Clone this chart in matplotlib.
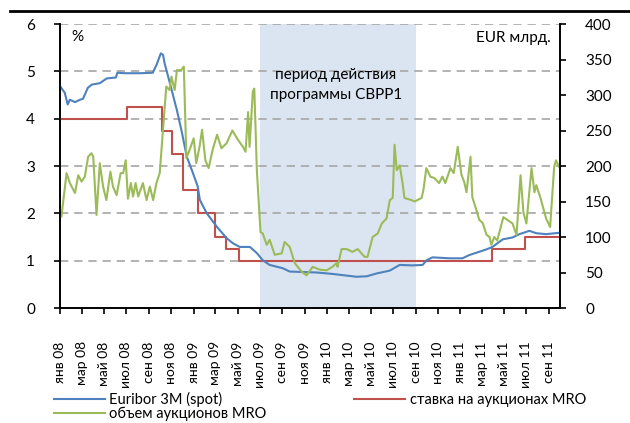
import matplotlib
matplotlib.use('Agg')
import matplotlib.pyplot as plt
from matplotlib.lines import Line2D
import pandas as pd

plt.rcParams['font.family'] = ['Lato', 'DejaVu Sans']

# x axis ticks every two months
tick_labels = ['янв 08', 'мар 08', 'май 08', 'июл 08', 'сен 08', 'ноя 08',
               'янв 09', 'мар 09', 'май 09', 'июл 09', 'сен 09', 'ноя 09',
               'янв 10', 'мар 10', 'май 10', 'июл 10', 'сен 10', 'ноя 10',
               'янв 11', 'мар 11', 'май 11', 'июл 11', 'сен 11']

# Euribor 3M, %
euribor_dates = ['2008-01-01', '2008-01-09', '2008-01-14', '2008-01-22', '2008-01-28',
                 '2008-02-11', '2008-02-25', '2008-03-04', '2008-03-17', '2008-03-28',
                 '2008-04-19', '2008-05-08', '2008-06-02', '2008-06-06', '2008-06-27',
                 '2008-08-07', '2008-09-11', '2008-09-22', '2008-10-03', '2008-10-09',
                 '2008-10-14', '2008-10-20', '2008-11-02', '2008-11-16', '2008-11-30',
                 '2008-12-13', '2008-12-30', '2009-01-12', '2009-01-18', '2009-02-06',
                 '2009-03-05', '2009-04-02', '2009-04-18', '2009-05-07', '2009-06-04',
                 '2009-06-23', '2009-07-09', '2009-07-28', '2009-09-02', '2009-09-21',
                 '2009-12-04', '2010-01-16', '2010-03-23', '2010-04-20', '2010-05-17',
                 '2010-06-22', '2010-07-19', '2010-08-23', '2010-09-20', '2010-10-01',
                 '2010-10-17', '2010-12-03', '2011-01-07', '2011-01-26', '2011-02-23',
                 '2011-03-14', '2011-03-30', '2011-04-27', '2011-05-24', '2011-06-12',
                 '2011-07-09', '2011-07-28', '2011-08-24', '2011-09-30']
euribor_values = [4.69, 4.60, 4.55, 4.30, 4.40,
                  4.35, 4.40, 4.42, 4.65, 4.72,
                  4.75, 4.85, 4.87, 4.97, 4.96,
                  4.96, 4.97, 5.15, 5.38, 5.35,
                  5.15, 4.98, 4.60, 4.18, 3.70,
                  3.20, 2.85, 2.57, 2.28, 2.00,
                  1.72, 1.47, 1.37, 1.29, 1.29,
                  1.16, 1.01, 0.91, 0.84, 0.77,
                  0.75, 0.72, 0.66, 0.67, 0.73,
                  0.79, 0.91, 0.90, 0.91, 1.01,
                  1.07, 1.05, 1.05, 1.12, 1.19,
                  1.24, 1.29, 1.45, 1.49, 1.56,
                  1.63, 1.58, 1.56, 1.59]

# MRO rate, % (value valid from date)
rate_dates = ['2008-01-01', '2008-07-02', '2008-10-06', '2008-11-02', '2008-12-02',
              '2009-01-12', '2009-02-28', '2009-03-30', '2009-05-05', '2011-03-30',
              '2011-06-28', '2011-10-01']
rate_values = [4.00, 4.25, 3.75, 3.25, 2.50, 2.00, 1.50, 1.25, 1.00, 1.25, 1.50, 1.50]

# MRO allotment, EUR bn
volume_dates = ['2008-01-05', '2008-01-19', '2008-01-28', '2008-02-11', '2008-02-20',
                '2008-02-29', '2008-03-09', '2008-03-18', '2008-03-27', '2008-04-01',
                '2008-04-10', '2008-04-19', '2008-04-28', '2008-05-07', '2008-05-18',
                '2008-05-25', '2008-06-04', '2008-06-15', '2008-06-22', '2008-06-29',
                '2008-07-05', '2008-07-13', '2008-07-19', '2008-07-26', '2008-08-02',
                '2008-08-15', '2008-08-25', '2008-09-03', '2008-09-12', '2008-09-21',
                '2008-09-30', '2008-10-09', '2008-10-18', '2008-10-27', '2008-11-01',
                '2008-11-10', '2008-11-16', '2008-11-28', '2008-12-05', '2008-12-12',
                '2008-12-21', '2009-01-01', '2009-01-08', '2009-01-17', '2009-01-24',
                '2009-02-02', '2009-02-11', '2009-02-22', '2009-03-06', '2009-03-18',
                '2009-04-01', '2009-04-17', '2009-05-02', '2009-05-16', '2009-05-23',
                '2009-05-30', '2009-06-03', '2009-06-12', '2009-06-16', '2009-06-23',
                '2009-07-03', '2009-07-09', '2009-07-20', '2009-07-28', '2009-08-11',
                '2009-08-30', '2009-09-07', '2009-09-21', '2009-10-05', '2009-10-24',
                '2009-11-06', '2009-11-23', '2009-12-12', '2009-12-31', '2010-01-16',
                '2010-01-27', '2010-01-30', '2010-02-10', '2010-02-24', '2010-03-12',
                '2010-03-26', '2010-04-14', '2010-04-22', '2010-05-06', '2010-05-20',
                '2010-05-31', '2010-06-13', '2010-06-22', '2010-06-30', '2010-07-05',
                '2010-07-11', '2010-07-19', '2010-07-27', '2010-08-01', '2010-08-20',
                '2010-08-29', '2010-09-17', '2010-09-22', '2010-09-30', '2010-10-11',
                '2010-10-22', '2010-11-04', '2010-11-13', '2010-11-21', '2010-12-05',
                '2010-12-14', '2010-12-25', '2011-01-04', '2011-01-12', '2011-01-18',
                '2011-01-29', '2011-02-03', '2011-02-14', '2011-02-22', '2011-03-03',
                '2011-03-14', '2011-03-22', '2011-03-27', '2011-04-04', '2011-04-12',
                '2011-04-29', '2011-05-24', '2011-06-04', '2011-06-15', '2011-06-23',
                '2011-07-01', '2011-07-15', '2011-07-23', '2011-07-28', '2011-08-08',
                '2011-08-24', '2011-09-04', '2011-09-15', '2011-09-20', '2011-09-28']
volume_values = [129, 190, 176, 162, 187,
                 178, 185, 213, 218, 213,
                 131, 204, 171, 152, 192,
                 171, 159, 190, 190, 208,
                 154, 176, 157, 176, 157,
                 176, 152, 171, 152, 176,
                 190, 251, 312, 307, 326,
                 307, 335, 335, 340, 211,
                 223, 239, 204, 227, 251,
                 208, 197, 223, 244, 225,
                 232, 250, 237, 227, 220,
                 276, 227, 305, 309, 194,
                 107, 105, 89, 96, 75,
                 77, 93, 86, 63, 51,
                 46, 58, 54, 53, 58,
                 63, 58, 83, 83, 79,
                 83, 72, 72, 100, 105,
                 119, 126, 152, 155, 230,
                 194, 201, 176, 155, 152,
                 150, 155, 166, 197, 185,
                 183, 176, 185, 176, 197,
                 190, 227, 188, 177, 163,
                 213, 156, 138, 124, 120,
                 103, 100, 89, 100, 95,
                 128, 119, 103, 187, 134,
                 119, 197, 163, 173, 156,
                 126, 114, 199, 208, 199]

cbpp_period = ['2009-07-01', '2010-09-01']
x_range = ['2008-01-01', '2011-10-01']

blue = '#4f81bd'
red = '#c0504d'
green = '#9bbb59'

fig = plt.figure(figsize=(6.3, 4.23), dpi=100)
ax = fig.add_axes([60 / 630, 1 - 308 / 423, 500 / 630, 284 / 423])
ax2 = ax.twinx()

ax.axvspan(pd.Timestamp(cbpp_period[0]), pd.Timestamp(cbpp_period[1]),
           color='#dbe5f1', lw=0, zorder=0)
for v in range(1, 7):
    ax.axhline(v, color='#a6a6a6', lw=1.2, ls=(0, (5, 3.5)), zorder=1)

ax.plot(pd.to_datetime(euribor_dates), euribor_values, color=blue, lw=1.5, zorder=4)
ax.step(pd.to_datetime(rate_dates), rate_values, where='post', color=red, lw=1.5, zorder=3)
ax2.plot(pd.to_datetime(volume_dates), volume_values, color=green, lw=1.5)

ax.set_xlim(pd.Timestamp(x_range[0]), pd.Timestamp(x_range[1]))
ax.set_ylim(0, 6)
ax2.set_ylim(0, 400)
ax.set_yticks(range(0, 7))
ax2.set_yticks(range(0, 401, 50))

ticks = pd.date_range('2008-01-01', periods=len(tick_labels), freq='2MS')
ax.set_xticks(ticks)
ax.set_xticklabels(tick_labels, rotation=90, va='top', ha='center')

for a in (ax, ax2):
    a.spines['top'].set_visible(False)
    for s in ('left', 'right', 'bottom'):
        a.spines[s].set_linewidth(1.2)
ax.tick_params(axis='y', direction='out', length=4, width=1.2, pad=14, labelsize=11)
ax2.tick_params(axis='y', direction='out', length=4, width=1.2, pad=14, labelsize=11)
ax.tick_params(axis='x', direction='out', length=4, width=1.2, pad=20, labelsize=10)

ax.text(0.022, 0.955, '%', transform=ax.transAxes, fontsize=11, va='center')
ax.text(0.982, 0.95, 'EUR млрд.', transform=ax.transAxes, fontsize=11,
        va='center', ha='right')
ax.text(0.552, 0.785, 'период действия\nпрограммы CBPP1', transform=ax.transAxes,
        fontsize=11, ha='center', va='center', linespacing=1.5)

fig.add_artist(Line2D([10 / 630, 1], [1 - 11 / 423, 1 - 11 / 423], color='black', lw=2))

handles = [Line2D([], [], color=blue, lw=1.5),
           Line2D([], [], color=green, lw=1.5),
           Line2D([], [], color=red, lw=1.5)]
labels = ['Euribor 3M (spot)', 'объем аукционов MRO', 'ставка на аукционах MRO']
fig.legend(handles, labels, ncol=2, loc='upper left', bbox_to_anchor=(48 / 630, 1 - 386 / 423),
           frameon=False, fontsize=10.5, handlelength=3.5, handletextpad=0.3,
           columnspacing=6.0, labelspacing=0.0, borderaxespad=0)

fig.savefig('out.png', dpi=100)
